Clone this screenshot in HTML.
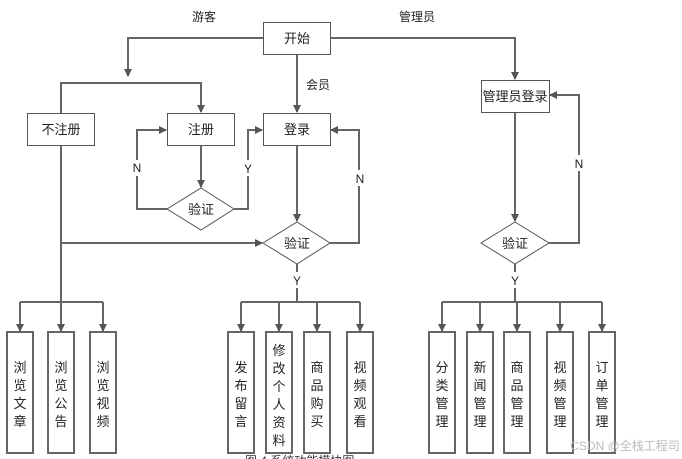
<!DOCTYPE html>
<html><head><meta charset="utf-8"><style>
html,body{margin:0;padding:0;background:#fff;}
svg{display:block;font-family:"Liberation Sans","Noto Sans CJK SC",sans-serif;}
</style></head><body>
<svg width="682" height="459" viewBox="0 0 682 459" xmlns="http://www.w3.org/2000/svg">
<defs>
<marker id="a" markerWidth="8" markerHeight="8" refX="7" refY="4" orient="auto" markerUnits="userSpaceOnUse">
<path d="M0,0 L8,4 L0,8 Z" fill="#555"/></marker>
</defs>
<g fill="none" stroke="#666" stroke-width="2">
<polyline points="263,38 128,38 128,76" marker-end="url(#a)"/>
<polyline points="61,113 61,83 201,83 201,112" marker-end="url(#a)"/>
<line x1="297" y1="54" x2="297" y2="112" marker-end="url(#a)"/>
<polyline points="330,38 515,38 515,79" marker-end="url(#a)"/>
<line x1="201" y1="145" x2="201" y2="187" marker-end="url(#a)"/>
<polyline points="167,209 137,209 137,130 166,130" marker-end="url(#a)"/>
<polyline points="234,209 248,209 248,130 262,130" marker-end="url(#a)"/>
<line x1="297" y1="145" x2="297" y2="221" marker-end="url(#a)"/>
<polyline points="330,243 359,243 359,130 331,130" marker-end="url(#a)"/>
<line x1="61" y1="243" x2="262" y2="243" marker-end="url(#a)"/>
<line x1="515" y1="112" x2="515" y2="221" marker-end="url(#a)"/>
<polyline points="549,243 579,243 579,95 550,95" marker-end="url(#a)"/>
<line x1="61" y1="145" x2="61" y2="302"/>
<line x1="20" y1="302" x2="103" y2="302"/>
<line x1="20" y1="302" x2="20" y2="331" marker-end="url(#a)"/>
<line x1="61" y1="302" x2="61" y2="331" marker-end="url(#a)"/>
<line x1="103" y1="302" x2="103" y2="331" marker-end="url(#a)"/>
<line x1="297" y1="264" x2="297" y2="272"/>
<line x1="297" y1="288" x2="297" y2="302"/>
<line x1="241" y1="302" x2="360" y2="302"/>
<line x1="241" y1="302" x2="241" y2="331" marker-end="url(#a)"/>
<line x1="279" y1="302" x2="279" y2="331" marker-end="url(#a)"/>
<line x1="317" y1="302" x2="317" y2="331" marker-end="url(#a)"/>
<line x1="360" y1="302" x2="360" y2="331" marker-end="url(#a)"/>
<line x1="515" y1="264" x2="515" y2="272"/>
<line x1="515" y1="288" x2="515" y2="302"/>
<line x1="442" y1="302" x2="602" y2="302"/>
<line x1="442" y1="302" x2="442" y2="331" marker-end="url(#a)"/>
<line x1="480" y1="302" x2="480" y2="331" marker-end="url(#a)"/>
<line x1="517" y1="302" x2="517" y2="331" marker-end="url(#a)"/>
<line x1="560" y1="302" x2="560" y2="331" marker-end="url(#a)"/>
<line x1="602" y1="302" x2="602" y2="331" marker-end="url(#a)"/>
</g>
<g fill="#fff">
<rect x="131" y="160" width="12" height="16"/>
<rect x="242" y="160" width="12" height="16"/>
<rect x="353" y="170" width="12" height="16"/>
<rect x="573" y="155" width="12" height="16"/>
</g>
<g fill="#fff" stroke="#555" stroke-width="1">
<rect x="263.5" y="22.5" width="67" height="32"/>
<rect x="27.5" y="113.5" width="67" height="32"/>
<rect x="167.5" y="113.5" width="67" height="32"/>
<rect x="263.5" y="113.5" width="67" height="32"/>
<rect x="481.5" y="80.5" width="68" height="32"/>
<polygon points="201,188 234,209 201,230 167,209"/>
<polygon points="297,222 330,243 297,264 263,243"/>
<polygon points="515,222 549,243 515,264 481,243"/>
</g>
<g fill="#fff" stroke="#666" stroke-width="2">
<rect x="7" y="332" width="26" height="121"/>
<rect x="48" y="332" width="26" height="121"/>
<rect x="90" y="332" width="26" height="121"/>
<rect x="228" y="332" width="26" height="121"/>
<rect x="266" y="332" width="26" height="121"/>
<rect x="304" y="332" width="26" height="121"/>
<rect x="347" y="332" width="26" height="121"/>
<rect x="429" y="332" width="26" height="121"/>
<rect x="467" y="332" width="26" height="121"/>
<rect x="504" y="332" width="26" height="121"/>
<rect x="547" y="332" width="26" height="121"/>
<rect x="589" y="332" width="26" height="121"/>
</g>
<g fill="#222" font-size="13" text-anchor="middle">
<text x="297" y="43">开始</text>
<text x="61" y="134">不注册</text>
<text x="201" y="134">注册</text>
<text x="297" y="134">登录</text>
<text x="515" y="101">管理员登录</text>
<text x="201" y="214">验证</text>
<text x="297" y="248">验证</text>
<text x="515" y="248">验证</text>
<text x="204" y="21" font-size="12">游客</text>
<text x="417" y="21" font-size="12">管理员</text>
<text x="318" y="89" font-size="12">会员</text>
<text x="137" y="172" font-size="12">N</text>
<text x="248" y="173" font-size="12">Y</text>
<text x="360" y="183" font-size="12">N</text>
<text x="579" y="168" font-size="12">N</text>
<text x="297" y="285" font-size="12">Y</text>
<text x="515" y="285" font-size="12">Y</text>
</g>
<g fill="#222" font-size="13" text-anchor="middle">
<text x="20" y="372">浏</text><text x="20" y="390">览</text><text x="20" y="408">文</text><text x="20" y="426">章</text>
<text x="61" y="372">浏</text><text x="61" y="390">览</text><text x="61" y="408">公</text><text x="61" y="426">告</text>
<text x="103" y="372">浏</text><text x="103" y="390">览</text><text x="103" y="408">视</text><text x="103" y="426">频</text>
<text x="241" y="372">发</text><text x="241" y="390">布</text><text x="241" y="408">留</text><text x="241" y="426">言</text>
<text x="279" y="355">修</text><text x="279" y="373">改</text><text x="279" y="391">个</text><text x="279" y="409">人</text><text x="279" y="427">资</text><text x="279" y="445">料</text>
<text x="317" y="372">商</text><text x="317" y="390">品</text><text x="317" y="408">购</text><text x="317" y="426">买</text>
<text x="360" y="372">视</text><text x="360" y="390">频</text><text x="360" y="408">观</text><text x="360" y="426">看</text>
<text x="442" y="372">分</text><text x="442" y="390">类</text><text x="442" y="408">管</text><text x="442" y="426">理</text>
<text x="480" y="372">新</text><text x="480" y="390">闻</text><text x="480" y="408">管</text><text x="480" y="426">理</text>
<text x="517" y="372">商</text><text x="517" y="390">品</text><text x="517" y="408">管</text><text x="517" y="426">理</text>
<text x="560" y="372">视</text><text x="560" y="390">频</text><text x="560" y="408">管</text><text x="560" y="426">理</text>
<text x="602" y="372">订</text><text x="602" y="390">单</text><text x="602" y="408">管</text><text x="602" y="426">理</text>
</g>
<text x="245" y="465" font-size="12" fill="#333">图 4 系统功能模块图</text>
<text x="625" y="450" font-size="12" fill="#bbb" text-anchor="middle">CSDN @全栈工程司</text>
</svg>
</body></html>
